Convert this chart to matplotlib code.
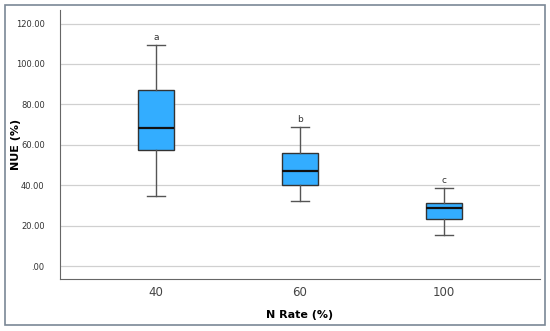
import matplotlib
matplotlib.use("Agg")
import matplotlib.pyplot as plt
from matplotlib.patches import Rectangle

categories = ["40", "60", "100"]
whislo = [34.6, 32.3, 15.3]
q1 = [57.5, 40.1, 23.1]
med = [68.3, 46.8, 28.7]
q3 = [86.9, 55.7, 31.0]
whishi = [109.5, 68.9, 38.7]
letters = ["a", "b", "c"]
yticks = [0, 20, 40, 60, 80, 100, 120]
ytick_labels = [".00", "20.00", "40.00", "60.00", "80.00", "100.00", "120.00"]

W, H = 550, 331
fig = plt.figure(figsize=(W / 100, H / 100), dpi=100)
ax = fig.add_axes([60 / W, 1 - 279 / H, 480 / W, 269 / H])

stats = []
for i in range(len(categories)):
    stats.append(dict(whislo=whislo[i], q1=q1[i], med=med[i], q3=q3[i],
                      whishi=whishi[i], fliers=[], label=categories[i]))

ax.bxp(stats, positions=range(len(categories)), widths=0.25, patch_artist=True,
       showfliers=False,
       boxprops=dict(facecolor="#33ADFF", edgecolor="#333333", linewidth=1.0),
       medianprops=dict(color="#111111", linewidth=1.6),
       whiskerprops=dict(color="#555555", linewidth=1.0),
       capprops=dict(color="#555555", linewidth=1.0),
       capwidths=0.125, zorder=3)

for i, l in enumerate(letters):
    ax.text(i, whishi[i] + 1.5, l, ha="center", va="bottom", fontsize=6.5, color="#333333")

ax.set_xlim(-0.667, 2.667)
ax.set_ylim(-6.4, 126.7)
ax.set_yticks(yticks)
ax.set_yticklabels(ytick_labels, fontsize=6, color="#333333")
ax.set_xticks(range(len(categories)))
ax.set_xticklabels(categories, fontsize=8.5, color="#444444")
ax.tick_params(axis="y", length=0, pad=11)
ax.tick_params(axis="x", length=0, pad=5)
ax.yaxis.grid(True, color="#d0d0d0", linewidth=0.9, zorder=0)
ax.set_axisbelow(True)
for s in ["top", "right"]:
    ax.spines[s].set_visible(False)
for s in ["left", "bottom"]:
    ax.spines[s].set_color("#666666")
    ax.spines[s].set_linewidth(0.8)

ax.set_ylabel("NUE (%)", fontsize=8, fontweight="bold")
ax.yaxis.set_label_coords(-0.081, 0.5)
ax.set_xlabel("N Rate (%)", fontsize=8, fontweight="bold")
ax.xaxis.set_label_coords(0.5, -0.115)

fig.patches.append(Rectangle((5 / W, 1 - 325 / H), 540 / W, 320 / H, transform=fig.transFigure,
                             fill=False, edgecolor="#7a8796", linewidth=1.2))

fig.savefig("out.png", dpi=100)
